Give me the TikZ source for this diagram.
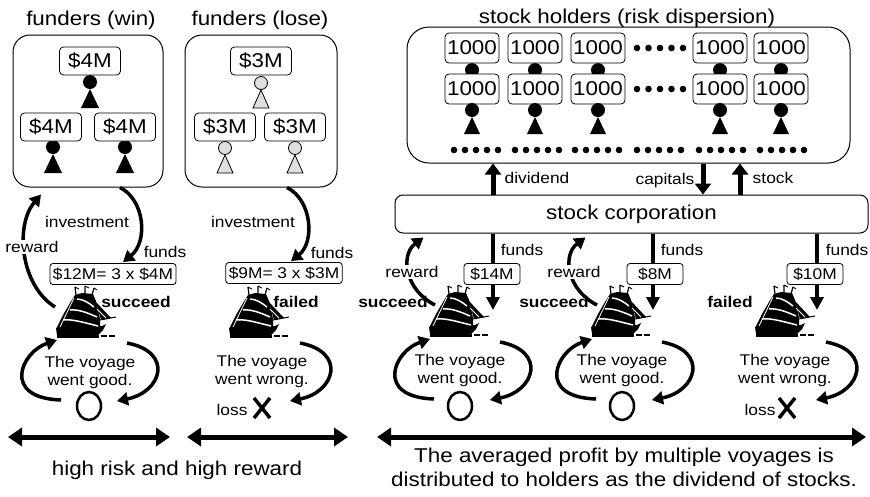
\documentclass[tikz,border=0pt]{standalone}
\usepackage{fontspec}
\setmainfont{Liberation Sans}[FakeStretch=1.12]
\usetikzlibrary{arrows.meta,calc}
\newcommand\bigtxt{\fontsize{20}{24}\selectfont}
\newcommand\smtxt{\fontsize{15.5}{18}\selectfont}
\tikzset{
  % sailing ship silhouette, origin at its centre, y pointing down
  ship/.pic={
    % leaning sails
    \fill (-30,16) -- (-23,2) -- (-16,-10) -- (-11,-18) -- (-4,-20) -- (7,-19)
      -- (10,-12) -- (12,-4) -- (14,6) -- (14,15) -- cycle;
    % jib and bowsprit
    \fill (10,-11) -- (25,5) -- (15,7) -- cycle;
    \draw[line width=1pt] (14,7) -- (30,4);
    % hull
    \fill (-30,15) -- (16,13) -- (20,11) -- (17,17) -- (12,22) -- (-29,22) -- cycle;
    % water line
    \fill (-29,21.5) rectangle (13,24.8);
    \fill (15,22.4) rectangle (21,24.2);
    \fill (23,22) rectangle (29,23.6);
    % light gaps between the sails
    \draw[white, line width=1.5pt] (-9,-14) .. controls (-3,-14) and (3,-10) .. (8,-6);
    \draw[white, line width=1.5pt] (-16,-3) .. controls (-8,-4) and (2,0) .. (11,4);
    \draw[white, line width=1.5pt] (-23,7) .. controls (-14,6) and (-4,9) .. (12,13);
    \draw[white, line width=0.8pt] (-26,14) -- (-12,-15);
    \draw[white, line width=0.9pt] (11,-4) -- (20,5);
    % mast tops with pennants
    \draw[line width=1.2pt] (-10,-18) -- (-11,-26) (-1,-19) -- (-1,-27) (6,-18) -- (8,-25);
    \draw[line width=0.9pt] (-11,-26) -- (-7,-24) (-1,-27) -- (3,-25) (8,-25) -- (11,-23);
  },
  % funder figures: black and grey
  manb/.pic={
    \fill (0,0) circle (7pt);
    \fill (0,7) -- (-9,26) -- (9,26) -- cycle;
  },
  mang/.pic={
    \draw[fill=gray!25, line width=0.8pt] (0,0) circle (6.5pt);
    \draw[fill=gray!25, line width=0.8pt] (0,7) -- (-8,25) -- (8,25) -- cycle;
  },
  mans/.pic={
    \fill (0,0) circle (7pt);
    \fill (0,7) -- (-8,24) -- (8,24) -- cycle;
  },
}
\begin{document}
\begin{tikzpicture}[x=1pt,y=-1pt,
  title/.style={font=\bigtxt, anchor=base, inner sep=0pt},
  group/.style={draw, line width=1pt, rounded corners=#1},
  money/.style={draw, line width=0.8pt, rounded corners=4pt, fill=white, font=\bigtxt,
    minimum width=61pt, minimum height=28pt, inner sep=0pt},
  share/.style={draw, line width=0.8pt, rounded corners=4pt, fill=white, font=\bigtxt,
    minimum width=54pt, minimum height=30pt, inner sep=0pt},
  tag/.style={draw, line width=0.8pt, rounded corners=3pt, fill=white, font=\smtxt,
    minimum height=21pt, inner xsep=3pt, inner ysep=0pt},
  fundtag/.style={tag, minimum width=56pt},
  lbl/.style={font=\smtxt, inner sep=1pt},
  wlbl/.style={lbl, fill=white},
  blbl/.style={font=\smtxt\bfseries, inner sep=1pt},
  note/.style={font=\smtxt, align=center, inner sep=0pt},
  curvy/.style={line width=3.5pt, -{Triangle[length=11pt,width=13pt]}},
  bigarrow/.style={line width=5pt, -{Triangle[length=11pt,width=16pt]}},
  fundarrow/.style={line width=4pt, -{Triangle[length=13pt,width=13pt]}},
  span/.style={line width=5pt, {Triangle[length=14pt,width=18pt]}-{Triangle[length=14pt,width=18pt]}},
  shipspot/.style={minimum width=60pt, minimum height=50pt, inner sep=0pt},
  cross/.style={line width=3.5pt},
  result/.style={line width=2.5pt},
]
\useasboundingbox (0,0) rectangle (870,496);

% ---------- titles ----------
\node[title] (twin)  at (91,25)  {funders (win)};
\node[title] (tlose) at (260,25) {funders (lose)};
\node[title] (thold) at (627,23) {stock holders (risk dispersion)};

% ---------- funder groups ----------
\node[group=17pt, minimum width=150pt, minimum height=152pt] (winbox)  at (88,111)  {};
\node[group=17pt, minimum width=152pt, minimum height=152pt] (losebox) at (261,111) {};

\pic at (90,82) {manb};  \pic at (53,147) {manb};  \pic at (125,147) {manb};
\node[money] (w1) at (90,61)  {\$4M};
\node[money] (w2) at (51,127) {\$4M};
\node[money] (w3) at (125,127) {\$4M};

\pic at (261,83) {mang}; \pic at (225,148) {mang}; \pic at (295,148) {mang};
\node[money] (l1) at (261,61)  {\$3M};
\node[money] (l2) at (225,127) {\$3M};
\node[money] (l3) at (295,127) {\$3M};

% ---------- stock holders ----------
\node[group=22pt, minimum width=443pt, minimum height=136pt] (holders) at (628.5,95) {};
\foreach \x/\n in {472/1,535/2,598/3,720/4,781/5} {
  \fill (\x,70) circle (7pt);
  \node[share] (a\n) at (\x,48) {1000};
  \node[share] (b\n) at (\x,89) {1000};
  \pic at (\x,110) {mans};
}
\foreach \y in {48,89}
  \foreach \k in {0,...,4}
    \fill (637+\k*11.5,\y) circle (3.3pt);
\foreach \g in {454,515,575,637,699,760}
  \foreach \k in {0,...,4}
    \fill (\g+\k*11,150) circle (3.3pt);

% ---------- stock corporation ----------
\node[group=8pt, minimum width=473pt, minimum height=38pt, font=\bigtxt] (corp) at (631.5,214) {stock corporation};

\coordinate (xdiv) at (493,0);
\coordinate (xcap) at (703,0);
\coordinate (xstk) at (740,0);
\draw[bigarrow] (corp.north -| xdiv) -- (holders.south -| xdiv);
\draw[bigarrow] (holders.south -| xcap) -- (corp.north -| xcap);
\draw[bigarrow] (corp.north -| xstk) -- (holders.south -| xstk);
\node[lbl] (ldiv) at (537,178) {dividend};
\node[lbl] (lcap) at (665,180) {capitals};
\node[lbl] (lstk) at (773,178) {stock};

% ---------- ships ----------
\node[shipspot] (s1) at (86,313) {};
\node[shipspot] (s2) at (259,313) {};
\node[shipspot] (s3) at (459,312) {};
\node[shipspot] (s4) at (621,312) {};
\node[shipspot] (s5) at (785,312) {};
\foreach \s in {s1,s2,s3,s4,s5} \pic at (\s) {ship};

\node[blbl] (r1) at (136,302) {succeed};
\node[blbl] (r2) at (296,302) {failed};
\node[blbl] (r3) at (393,302) {succeed};
\node[blbl] (r4) at (554,302) {succeed};
\node[blbl] (r5) at (730,302) {failed};

% ---------- individual funding ----------
\node[tag] (t1) at (113,274) {\$12M= 3 x \$4M};
\node[tag] (t2) at (284,273) {\$9M= 3 x \$3M};
\draw[curvy] ($(winbox.south)+(32,0)$) .. controls (145,200) and (148,242) .. ($(t1.north)+(10,-1)$);
\draw[curvy] ($(losebox.south)+(26,0)$) .. controls (312,200) and (315,242) .. ($(t2.north)+(7,-1)$);
\node[lbl] (inv1) at (87,222)  {investment};
\node[lbl] (inv2) at (253,222) {investment};
\node[lbl] (fd1) at (165,252) {funds};
\node[lbl] (fd2) at (332,253) {funds};
\draw[curvy] ($(s1)+(-31,-6)$) .. controls (20,285) and (15,225) .. ($(winbox.south)+(-47,7)$);
\node[wlbl] (rw1) at (32,247) {reward};

% ---------- corporate funding ----------
\coordinate (f3) at (493,310);
\coordinate (f4) at (653,310);
\coordinate (f5) at (817,310);
\foreach \f in {f3,f4,f5} \draw[fundarrow] (corp.south -| \f) -- (\f);
\node[fundtag] (m3) at (492,274) {\$14M};
\node[fundtag] (m4) at (655,274) {\$8M};
\node[fundtag] (m5) at (815,274) {\$10M};
\node[lbl] (fd3) at (522,250) {funds};
\node[lbl] (fd4) at (682,250) {funds};
\node[lbl] (fd5) at (847,250) {funds};
\draw[curvy] ($(s3)+(-24,-7)$) .. controls (405,290) and (400,255) .. ($(corp.south west)+(29,4)$);
\draw[curvy] ($(s4)+(-24,-7)$) .. controls (567,290) and (562,255) .. ($(corp.south west)+(191,4)$);
\node[wlbl] (rw3) at (412,272) {reward};
\node[wlbl] (rw4) at (574,272) {reward};

% ---------- voyage outcomes ----------
\foreach \s in {s1,s2,s3,s4,s5}
  \draw[curvy] ($(\s)+(41,30)$) .. controls ($(\s)+(88,39)$) and ($(\s)+(76,79)$) .. ($(\s)+(31,88)$);
\foreach \s in {s1,s3,s4}
  \draw[curvy] ($(\s)+(-25,87)$) .. controls ($(\s)+(-85,85)$) and ($(\s)+(-65,39)$) .. ($(\s)+(-29,27)$);

\node[note] (v1) at (90,372)  {The voyage\\went good.};
\node[note] (v2) at (262,371) {The voyage\\went wrong.};
\node[note] (v3) at (460,370) {The voyage\\went good.};
\node[note] (v4) at (622,370) {The voyage\\went good.};
\node[note] (v5) at (785,370) {The voyage\\went wrong.};

\draw[result] (89,406) ellipse (12pt and 14pt);
\draw[result] (460,406) ellipse (12pt and 14pt);
\draw[result] (622,406) ellipse (12pt and 14pt);

\node[lbl] (loss2) at (232,410) {loss};
\node[lbl] (loss5) at (760,410) {loss};
\coordinate (x2) at (262,408);
\coordinate (x5) at (787,408);
\foreach \c in {x2,x5}
  \draw[cross] ($(\c)+(-8,-10)$) -- ($(\c)+(8,10)$) ($(\c)+(-8,10)$) -- ($(\c)+(8,-10)$);

% ---------- spans and conclusions ----------
\coordinate (sp1a) at (8,437);   \coordinate (sp1b) at (170,437);
\coordinate (sp2a) at (187,437); \coordinate (sp2b) at (348,437);
\coordinate (sp3a) at (377,437); \coordinate (sp3b) at (866,437);
\draw[span] (sp1a) -- (sp1b);
\draw[span] (sp2a) -- (sp2b);
\draw[span] (sp3a) -- (sp3b);
\node[font=\bigtxt, inner sep=0pt] (risk) at (177,470) {high risk and high reward};
\node[font=\bigtxt, align=center, inner sep=0pt] (avg) at (624,467)
  {The averaged profit by multiple voyages is\\distributed to holders as the dividend of stocks.};
\end{tikzpicture}
\end{document}
